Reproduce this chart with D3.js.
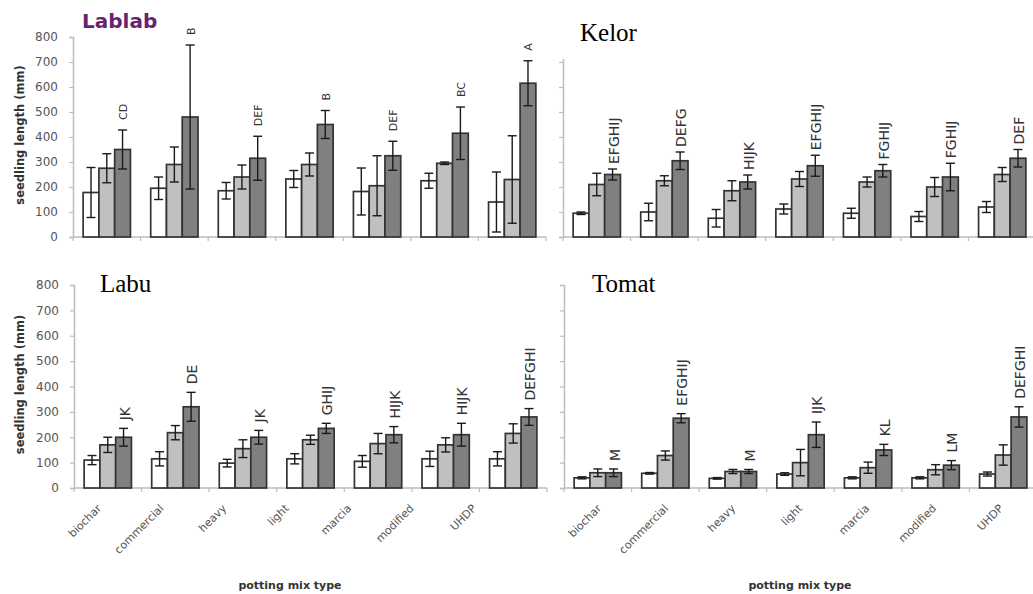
<!DOCTYPE html>
<html>
<head>
<meta charset="utf-8">
<script src="https://cdn.jsdelivr.net/npm/d3@7"></script>
<style>
  body { margin: 0; background: #fff; }
  svg { display: block; }
</style>
</head>
<body>
<div id="chart"></div>
<script>
// data
const mixTypes = ["biochar", "commercial", "heavy", "light", "marcia", "modified", "UHDP"];
const yTickValues = [0, 100, 200, 300, 400, 500, 600, 700, 800];

// each row: [white, light grey, dark grey]
const lablabMean = [[178, 275, 350], [195, 290, 480], [185, 240, 315], [232, 290, 450], [182, 205, 325], [225, 295, 415], [140, 230, 615]];
const lablabErr = [[100, 58, 78], [45, 70, 288], [33, 48, 88], [34, 46, 56], [94, 120, 58], [30, 5, 105], [120, 175, 90]];
const lablabLetters = ["CD", "B", "DEF", "B", "DEF", "BC", "A"];

const kelorMean = [[95, 210, 250], [100, 225, 305], [75, 185, 220], [112, 232, 285], [95, 220, 265], [82, 200, 240], [120, 250, 315]];
const kelorErr = [[5, 45, 22], [35, 20, 35], [35, 40, 28], [20, 30, 42], [20, 20, 25], [20, 38, 55], [22, 28, 35]];
const kelorLetters = ["EFGHIJ", "DEFG", "HIJK", "EFGHIJ", "FGHIJ", "FGHIJ", "DEF"];

const labuMean = [[110, 170, 200], [115, 218, 320], [98, 155, 200], [115, 190, 235], [105, 175, 210], [115, 170, 210], [115, 215, 280]];
const labuErr = [[18, 30, 35], [28, 28, 57], [15, 35, 27], [20, 18, 20], [23, 40, 32], [30, 28, 45], [28, 38, 33]];
const labuLetters = ["JK", "DE", "JK", "GHIJ", "HIJK", "HIJK", "DEFGHI"];

const tomatMean = [[40, 60, 60], [58, 128, 275], [38, 65, 65], [55, 100, 210], [40, 80, 150], [40, 72, 90], [55, 130, 280]];
const tomatErr = [[4, 15, 15], [3, 18, 18], [3, 8, 8], [5, 52, 50], [4, 22, 22], [4, 20, 18], [8, 40, 40]];
const tomatLetters = ["M", "EFGHIJ", "M", "IJK", "KL", "LM", "DEFGHI"];

const barFills = ["#ffffff", "#c0c0c0", "#808080"];

const width = 1033, height = 594;
const svg = d3.select("#chart").append("svg")
    .attr("width", width)
    .attr("height", height);

const panels = [
    { mean: lablabMean, err: lablabErr, letters: lablabLetters, x0: 73, x1: 546, yTop: 37, yBot: 237,
      left: true, bottom: false, letterSize: 11, letterGap: 10 },
    { mean: kelorMean, err: kelorErr, letters: kelorLetters, x0: 563, x1: 1036, yTop: 37, yBot: 237,
      left: false, bottom: false, letterSize: 14, letterGap: 5 },
    { mean: labuMean, err: labuErr, letters: labuLetters, x0: 74, x1: 547, yTop: 285, yBot: 488,
      left: true, bottom: true, labStart: 102, labEnd: 477, xTitle: 290, letterSize: 14, letterGap: 8 },
    { mean: tomatMean, err: tomatErr, letters: tomatLetters, x0: 564, x1: 1037, yTop: 285, yBot: 488,
      left: false, bottom: true, labStart: 602, labEnd: 1004, xTitle: 800, letterSize: 14, letterGap: 8 }
];

function drawPanel(p) {
    const g = svg.append("g");

    const xScale = d3.scaleBand().domain(mixTypes)
        .range([p.x0, p.x1])
        .paddingInner(0.3).paddingOuter(0.15);
    const xInner = d3.scaleBand().domain([0, 1, 2])
        .range([0, xScale.bandwidth()]);
    const yScale = d3.scaleLinear([0, 800], [p.yBot, p.yTop]);

    // y axis
    const yAxis = d3.axisLeft(yScale).tickValues(yTickValues)
        .tickSize(4).tickPadding(11)
        .tickFormat(p.left ? d3.format("d") : "");
    const yG = g.append("g")
        .attr("transform", `translate(${p.x0},0)`)
        .call(yAxis);
    yG.select(".domain").attr("stroke", "#bdbdbd").attr("stroke-width", 1.5);
    yG.selectAll(".tick line").attr("stroke", "#bdbdbd").attr("stroke-width", 1.2);
    yG.selectAll(".tick text")
        .attr("fill", "#555")
        .style("font-family", "DejaVu Sans")
        .style("font-size", "12px");

    // x axis with ticks at category boundaries
    const step = xScale.step();
    const bounds = d3.range(mixTypes.length + 1).map(i => p.x0 + i * step);
    g.append("line")
        .attr("x1", p.x0).attr("x2", p.x1)
        .attr("y1", p.yBot).attr("y2", p.yBot)
        .attr("stroke", "#bdbdbd").attr("stroke-width", 1.5);
    g.selectAll(".xtick").data(bounds).join("line")
        .attr("class", "xtick")
        .attr("x1", d => d).attr("x2", d => d)
        .attr("y1", p.yBot).attr("y2", p.yBot + 4)
        .attr("stroke", "#bdbdbd").attr("stroke-width", 1.2);

    // bars
    const groups = g.selectAll(".grp").data(mixTypes).join("g")
        .attr("class", "grp")
        .attr("transform", d => `translate(${xScale(d)},0)`);

    groups.each(function (cat, ci) {
        const grp = d3.select(this);
        const rows = [0, 1, 2].map(s => ({ s, v: p.mean[ci][s], e: p.err[ci][s] }));

        grp.selectAll("rect").data(rows).join("rect")
            .attr("x", d => xInner(d.s))
            .attr("y", d => yScale(d.v))
            .attr("width", xInner.bandwidth())
            .attr("height", d => yScale(0) - yScale(d.v))
            .attr("fill", d => barFills[d.s])
            .attr("stroke", "#333")
            .attr("stroke-width", 1.7);

        const eb = grp.selectAll(".eb").data(rows).join("g").attr("class", "eb")
            .attr("stroke", "#1a1a1a").attr("stroke-width", 1.4);
        const cx = d => xInner(d.s) + xInner.bandwidth() / 2;
        eb.append("line")
            .attr("x1", cx).attr("x2", cx)
            .attr("y1", d => yScale(d.v + d.e)).attr("y2", d => yScale(Math.max(0, d.v - d.e)));
        eb.append("line")
            .attr("x1", d => cx(d) - 4.5).attr("x2", d => cx(d) + 4.5)
            .attr("y1", d => yScale(d.v + d.e)).attr("y2", d => yScale(d.v + d.e));
        eb.append("line")
            .attr("x1", d => cx(d) - 4.5).attr("x2", d => cx(d) + 4.5)
            .attr("y1", d => yScale(Math.max(0, d.v - d.e))).attr("y2", d => yScale(Math.max(0, d.v - d.e)));

        // significance letters above the dark bar
        const top = rows[2];
        const lx = cx(top) + 1;
        const ly = yScale(top.v + top.e) - p.letterGap;
        grp.append("text")
            .attr("transform", `translate(${lx},${ly}) rotate(-90)`)
            .attr("dominant-baseline", "central")
            .attr("fill", "#333")
            .style("font-family", "DejaVu Sans")
            .style("font-size", p.letterSize + "px")
            .text(p.letters[ci]);
    });

    // category labels (only bottom panels)
    if (p.bottom) {
        const labX = d3.scalePoint().domain(mixTypes).range([p.labStart, p.labEnd]);
        g.selectAll(".cat").data(mixTypes).join("text")
            .attr("class", "cat")
            .attr("transform", d => `translate(${labX(d)},${p.yBot + 21}) rotate(-45)`)
            .attr("text-anchor", "end")
            .attr("fill", "#555")
            .style("font-family", "DejaVu Sans")
            .style("font-size", "11px")
            .text(d => d);

        g.append("text")
            .attr("x", p.xTitle)
            .attr("y", 589)
            .attr("text-anchor", "middle")
            .attr("fill", "#333")
            .style("font-family", "DejaVu Sans")
            .style("font-weight", "bold")
            .style("font-size", "11px")
            .text("potting mix type");
    }

    if (p.left) {
        g.append("text")
            .attr("transform", `translate(20,${(p.yTop + p.yBot) / 2 - 2}) rotate(-90)`)
            .attr("text-anchor", "middle")
            .attr("dominant-baseline", "central")
            .attr("fill", "#333")
            .style("font-family", "DejaVu Sans")
            .style("font-weight", "bold")
            .style("font-size", "11.5px")
            .text("seedling length (mm)");
    }
}

panels.forEach(drawPanel);

// pasted title boxes
svg.append("rect")
    .attr("x", 549).attr("y", 0)
    .attr("width", 120).attr("height", 59)
    .attr("fill", "#fff");

svg.append("text")
    .attr("x", 82).attr("y", 28)
    .attr("fill", "#6a2270")
    .style("font-family", "DejaVu Sans")
    .style("font-weight", "bold")
    .style("font-size", "20px")
    .text("Lablab");

const serifLabels = [
    { t: "Kelor", x: 580, y: 41 },
    { t: "Labu", x: 100, y: 292 },
    { t: "Tomat", x: 592, y: 292 }
];
svg.selectAll(".plant").data(serifLabels).join("text")
    .attr("class", "plant")
    .attr("x", d => d.x).attr("y", d => d.y)
    .attr("fill", "#000")
    .style("font-family", "Liberation Serif")
    .style("font-size", "25px")
    .text(d => d.t);
</script>
</body>
</html>
